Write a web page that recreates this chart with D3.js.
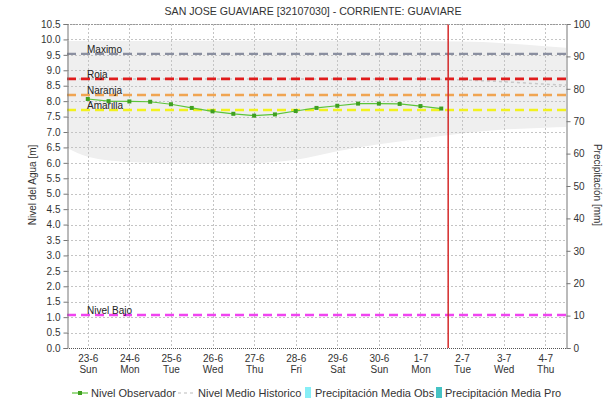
<!DOCTYPE html>
<html>
<head>
<meta charset="utf-8">
<script src="https://cdn.jsdelivr.net/npm/d3@7"></script>
<style>
  body { margin: 0; background: #fff; }
  text { font-family: "Liberation Sans", Arial, sans-serif; fill: #333; }
</style>
</head>
<body>
<svg id="chart" width="616" height="403"></svg>
<script>
// ---- data ----
const titleText = "SAN JOSE GUAVIARE [32107030] - CORRIENTE: GUAVIARE";

const obsTimes = [
  "2019-06-23T00:00Z", "2019-06-23T12:00Z", "2019-06-24T00:00Z", "2019-06-24T12:00Z",
  "2019-06-25T00:00Z", "2019-06-25T12:00Z", "2019-06-26T00:00Z", "2019-06-26T12:00Z",
  "2019-06-27T00:00Z", "2019-06-27T12:00Z", "2019-06-28T00:00Z", "2019-06-28T12:00Z",
  "2019-06-29T00:00Z", "2019-06-29T12:00Z", "2019-06-30T00:00Z", "2019-06-30T12:00Z",
  "2019-07-01T00:00Z", "2019-07-01T12:00Z"
];
const obsLevels = [8.07, 8.00, 7.99, 7.98, 7.90, 7.78, 7.67, 7.59, 7.53,
                   7.57, 7.68, 7.78, 7.85, 7.92, 7.92, 7.91, 7.84, 7.76];

// historic envelope and mean
const histTimes = [
  "2019-06-22T12:00Z", "2019-06-23T00:00Z", "2019-06-24T00:00Z", "2019-06-25T00:00Z",
  "2019-06-26T00:00Z", "2019-06-27T00:00Z", "2019-06-28T00:00Z", "2019-06-29T00:00Z",
  "2019-06-30T00:00Z", "2019-07-01T00:00Z", "2019-07-02T00:00Z", "2019-07-03T00:00Z",
  "2019-07-04T00:00Z", "2019-07-04T12:00Z"
];
const histMin  = [6.48, 6.20, 6.03, 5.99, 5.98, 5.99, 6.10, 6.38, 6.60, 6.78, 6.95, 7.08, 7.14, 7.16];
const histMax  = [9.95, 9.95, 9.95, 9.96, 9.96, 9.96, 9.96, 9.96, 9.96, 9.95, 9.93, 9.88, 9.78, 9.73];
const histMean = [8.72, 8.72, 8.72, 8.72, 8.72, 8.72, 8.72, 8.72, 8.72, 8.72, 8.69, 8.63, 8.55, 8.52];

// alert thresholds
const thresholdNames  = ["Maximo", "Roja", "Naranja", "Amarilla", "Nivel Bajo"];
const thresholdValues = [9.53, 8.72, 8.20, 7.71, 1.07];
const thresholdColors = ["#8a8fa0", "#e01c1c", "#f0a552", "#f2f21e", "#f044f0"];
const thresholdWidths = [2.2, 2.8, 2.5, 2.5, 2.5];

const currentTime = "2019-07-01T16:00Z";

// axis ticks
const dayTicks = ["2019-06-23", "2019-06-24", "2019-06-25", "2019-06-26", "2019-06-27", "2019-06-28",
                  "2019-06-29", "2019-06-30", "2019-07-01", "2019-07-02", "2019-07-03", "2019-07-04"];
const dayLabels = ["23-6", "24-6", "25-6", "26-6", "27-6", "28-6", "29-6", "30-6", "1-7", "2-7", "3-7", "4-7"];
const weekdayLabels = ["Sun", "Mon", "Tue", "Wed", "Thu", "Fri", "Sat", "Sun", "Mon", "Tue", "Wed", "Thu"];
const levelTicks = d3.range(0, 10.51, 0.5);
const precipTicks = [0, 10, 20, 30, 40, 50, 60, 70, 80, 90, 100];

const legendNames = ["Nivel Observador", "Nivel Medio Historico", "Precipitación Media Obs", "Precipitación Media Pro"];

// ---- layout ----
const svg = d3.select("#chart");
const L = 67, R = 566, T = 24, B = 348;

const x = d3.scaleUtc()
  .domain([new Date("2019-06-22T12:00Z"), new Date("2019-07-04T12:00Z")])
  .range([L, R]);
const y = d3.scaleLinear().domain([0, 10.5]).range([B, T]);
const y2 = d3.scaleLinear().domain([0, 100]).range([B, T]);

const parse = s => new Date(s);

// title
svg.append("text")
  .attr("x", 313).attr("y", 15)
  .attr("text-anchor", "middle")
  .style("font-size", "10.6px")
  .text(titleText);

// historic envelope
const hist = histTimes.map((t, i) => ({ t: parse(t), lo: histMin[i], hi: histMax[i], m: histMean[i] }));
svg.append("path")
  .datum(hist)
  .attr("fill", "#efefef")
  .attr("d", d3.area()
    .x(d => x(d.t)).y0(d => y(d.lo)).y1(d => y(d.hi))
    .curve(d3.curveMonotoneX));

// grid
const grid = svg.append("g").attr("stroke", "#c4c4c4").attr("stroke-dasharray", "2,2").attr("stroke-width", 1);
levelTicks.filter(v => v > 0).forEach(v => {
  grid.append("line").attr("x1", L).attr("x2", R)
    .attr("y1", Math.round(y(v)) + 0.5).attr("y2", Math.round(y(v)) + 0.5);
});
dayTicks.forEach(d => {
  const xx = Math.round(x(parse(d + "T00:00Z"))) + 0.5;
  grid.append("line").attr("x1", xx).attr("x2", xx).attr("y1", T).attr("y2", B);
});

// historic mean
svg.append("path")
  .datum(hist)
  .attr("fill", "none")
  .attr("stroke", "#c8c8c8")
  .attr("stroke-width", 1.5)
  .attr("stroke-dasharray", "3,3")
  .attr("d", d3.line().x(d => x(d.t)).y(d => y(d.m)));

// thresholds
thresholdValues.forEach((v, i) => {
  svg.append("line")
    .attr("x1", L).attr("x2", R)
    .attr("y1", y(v)).attr("y2", y(v))
    .attr("stroke", thresholdColors[i])
    .attr("stroke-width", thresholdWidths[i])
    .attr("stroke-dasharray", "9,5");
  svg.append("text")
    .attr("x", 87).attr("y", y(v) - 1)
    .style("font-size", "10px")
    .style("fill", "#222")
    .text(thresholdNames[i]);
});

// observed level
const obs = obsTimes.map((t, i) => ({ t: parse(t), v: obsLevels[i] }));
svg.append("path")
  .datum(obs)
  .attr("fill", "none")
  .attr("stroke", "#5cc43a")
  .attr("stroke-width", 1.2)
  .attr("d", d3.line().x(d => x(d.t)).y(d => y(d.v)));
svg.append("g").selectAll("rect")
  .data(obs).join("rect")
  .attr("x", d => x(d.t) - 2).attr("y", d => y(d.v) - 2)
  .attr("width", 4).attr("height", 4)
  .attr("fill", "#3fa020");

// current time marker
svg.append("line")
  .attr("x1", x(parse(currentTime))).attr("x2", x(parse(currentTime)))
  .attr("y1", T).attr("y2", B)
  .attr("stroke", "#d42a2a").attr("stroke-width", 1.5);

// frame
svg.append("line").attr("x1", L).attr("x2", R).attr("y1", T + 0.5).attr("y2", T + 0.5)
  .attr("stroke", "#999").attr("stroke-dasharray", "2,1");
svg.append("line").attr("x1", L).attr("x2", R).attr("y1", B + 0.5).attr("y2", B + 0.5)
  .attr("stroke", "#555").attr("stroke-dasharray", "1,1");

// left axis
const yAxis = svg.append("g").attr("transform", `translate(${L + 0.5},0)`)
  .call(d3.axisLeft(y).tickValues(levelTicks).tickFormat(d3.format(".1f")).tickSize(4).tickPadding(3));
yAxis.select(".domain").attr("stroke", "#777");
yAxis.selectAll(".tick line").attr("stroke", "#777");
yAxis.selectAll("text").style("font-size", "10px").style("font-family", '"Liberation Sans", Arial, sans-serif').attr("fill", "#333");

// right axis
const y2Axis = svg.append("g").attr("transform", `translate(${R + 0.5},0)`)
  .call(d3.axisRight(y2).tickValues(precipTicks).tickSize(4).tickPadding(3));
y2Axis.select(".domain").attr("stroke", "#777");
y2Axis.selectAll(".tick line").attr("stroke", "#777");
y2Axis.selectAll("text").style("font-size", "10px").style("font-family", '"Liberation Sans", Arial, sans-serif').attr("fill", "#333");

// bottom axis labels
const xAxis = svg.append("g").attr("transform", `translate(0,${B})`)
  .call(d3.axisBottom(x).tickValues(dayTicks.map(d => parse(d + "T00:00Z"))).tickSize(0).tickFormat(""));
xAxis.select(".domain").remove();
xAxis.selectAll(".tick").each(function (d, i) {
  const g = d3.select(this);
  g.select("text").remove();
  const t = g.append("text")
    .attr("text-anchor", "middle")
    .style("font-size", "10px")
    .style("fill", "#333");
  t.append("tspan").attr("x", 0).attr("y", 14).text(dayLabels[i]);
  t.append("tspan").attr("x", 0).attr("y", 25).text(weekdayLabels[i]);
});

// axis titles
svg.append("text")
  .attr("transform", `translate(36,185) rotate(-90)`)
  .attr("text-anchor", "middle")
  .style("font-size", "10px")
  .text("Nivel del Agua [m]");
svg.append("text")
  .attr("transform", `translate(594,185) rotate(90)`)
  .attr("text-anchor", "middle")
  .style("font-size", "10px")
  .text("Precipitación [mm]");

// legend
const lg = svg.append("g").style("font-size", "11px");
const ly = 397;
// Nivel Observador
lg.append("line").attr("x1", 72).attr("x2", 88).attr("y1", ly - 4).attr("y2", ly - 4)
  .attr("stroke", "#5cc43a").attr("stroke-width", 1.2);
lg.append("rect").attr("x", 78).attr("y", ly - 6).attr("width", 4).attr("height", 4).attr("fill", "#3fa020");
lg.append("text").attr("x", 91).attr("y", ly).text(legendNames[0]);
// Nivel Medio Historico
lg.append("line").attr("x1", 178).attr("x2", 194).attr("y1", ly - 4).attr("y2", ly - 4)
  .attr("stroke", "#bbb").attr("stroke-width", 1.2).attr("stroke-dasharray", "3,3");
lg.append("text").attr("x", 198).attr("y", ly).text(legendNames[1]);
// Precipitación Media Obs
lg.append("rect").attr("x", 305).attr("y", ly - 10).attr("width", 6).attr("height", 11).attr("fill", "#86eef6");
lg.append("text").attr("x", 315).attr("y", ly).text(legendNames[2]);
// Precipitación Media Pro
lg.append("rect").attr("x", 436).attr("y", ly - 10).attr("width", 6).attr("height", 11).attr("fill", "#45c2c4");
lg.append("text").attr("x", 445).attr("y", ly).text(legendNames[3]);
</script>
</body>
</html>
